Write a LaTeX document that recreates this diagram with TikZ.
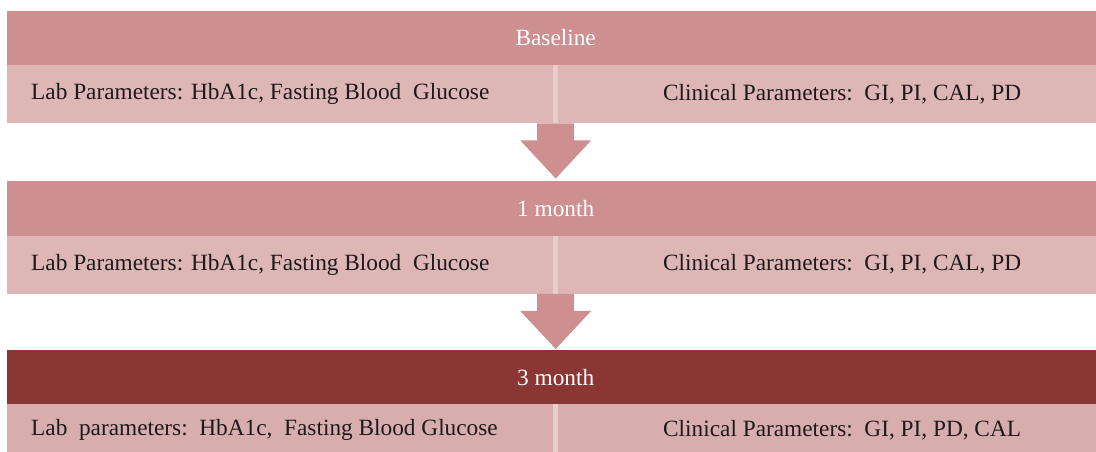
\documentclass[tikz,border=0pt]{standalone}
\usepackage{fontspec}
\setmainfont{Liberation Serif}
\usetikzlibrary{calc}
\definecolor{hdr}{RGB}{205,143,143}
\definecolor{subrow}{RGB}{221,182,181}
\definecolor{hdrdark}{RGB}{138,54,53}
\definecolor{subrowb}{RGB}{216,173,173}
\definecolor{divline}{RGB}{231,206,205}
\definecolor{txt}{RGB}{30,26,26}
\begin{document}
\begin{tikzpicture}[x=1bp,y=-1bp,
  font=\fontsize{23.3bp}{28bp}\selectfont,
  hdrbox/.style={fill=hdr, draw=none, inner sep=0pt, minimum width=1097bp, minimum height=54.5bp, anchor=north west, text=white},
  rowbox/.style={fill=subrow, draw=none, inner sep=0pt, minimum width=1097bp, minimum height=#1, anchor=north west},
  rowbox/.default=58bp,
  divbox/.style={fill=divline, draw=none, inner sep=0pt, minimum width=5bp, minimum height=#1, anchor=north west},
  divbox/.default=58bp,
  labtext/.style={text=txt, inner sep=0pt, anchor=west},
  blockarrow/.style={fill=hdr, draw=none}
]
\useasboundingbox (0,0) rectangle (1096,452);
\clip (0,0) rectangle (1096,452);

% Stage 1: Baseline
\node[hdrbox] (hdr1) at (7,10.5) {Baseline};
\node[rowbox] (row1) at (7,65) {};
\node[divbox] (div1) at (553,65) {};
\node[labtext] (lab1) at (31,94) {Lab Parameters: HbA1c, Fasting Blood\ \ Glucose};
\node[labtext] (clin1) at (663,94) {Clinical Parameters:\ \ GI, PI, CAL, PD};

% Stage 2: 1 month
\node[hdrbox] (hdr2) at (7,181) {1 month};
\node[rowbox] (row2) at (7,235.5) {};
\node[divbox] (div2) at (553,235.5) {};
\node[labtext] (lab2) at (31,264.5) {Lab Parameters: HbA1c, Fasting Blood\ \ Glucose};
\node[labtext] (clin2) at (663,264.5) {Clinical Parameters:\ \ GI, PI, CAL, PD};

% Stage 3: 3 month
\node[hdrbox, fill=hdrdark] (hdr3) at (7,350) {3 month};
\node[rowbox=60bp, fill=subrowb] (row3) at (7,404) {};
\node[divbox=60bp] (div3) at (553,404) {};
\node[labtext] (lab3) at (31,430) {Lab\ \ parameters:\ \ HbA1c,\ \ Fasting Blood Glucose};
\node[labtext] (clin3) at (663,430) {Clinical Parameters:\ \ GI, PI, PD, CAL};

% Block arrows
\fill[blockarrow] ($(row1.south)+(-18.5,0)$) -- ++(0,17) -- ++(-17,0)
  -- ($(hdr2.north)+(0,-2.5)$) -- ($(row1.south)+(35.5,17)$) -- ++(-17,0)
  -- ($(row1.south)+(18.5,0)$) -- cycle;
\fill[blockarrow] ($(row2.south)+(-18.5,0)$) -- ++(0,17) -- ++(-17,0)
  -- ($(hdr3.north)+(0,-1)$) -- ($(row2.south)+(35.5,17)$) -- ++(-17,0)
  -- ($(row2.south)+(18.5,0)$) -- cycle;
\end{tikzpicture}
\end{document}
